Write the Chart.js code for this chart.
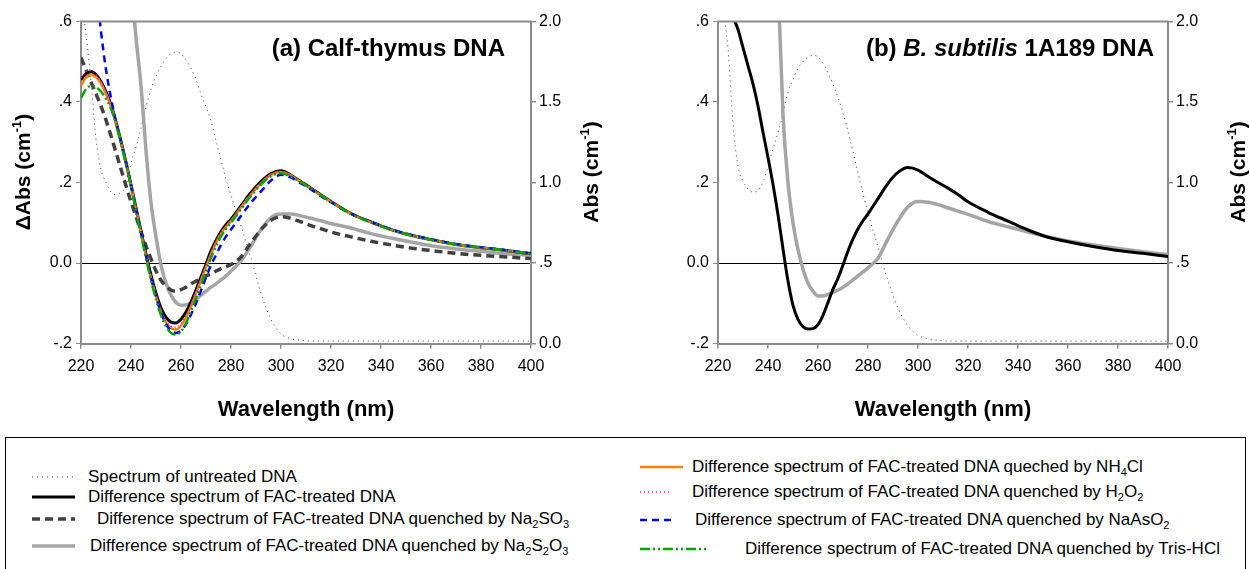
<!DOCTYPE html>
<html>
<head>
<meta charset="utf-8">
<script src="https://cdn.jsdelivr.net/npm/chart.js@4.4.1/dist/chart.umd.min.js"></script>
<style>
  html, body { margin: 0; padding: 0; background: #fff; }
  #wrap { position: relative; width: 1249px; height: 569px; overflow: hidden; font-family: "Liberation Sans", Arial, sans-serif; }
  canvas { position: absolute; top: 0; }
  #legendBox { position: absolute; left: 5px; top: 437px; width: 1241px; height: 140px; border: 1px solid #000; box-sizing: border-box; }
  .item { position: absolute; font-size: 17px; line-height: 20px; white-space: nowrap; color: #000; }
  .item sub { font-size: 11px; vertical-align: -4px; line-height: 0; }
  svg { position: absolute; overflow: visible; }
</style>
</head>
<body>
<div id="wrap">
  <canvas id="chartA" width="625" height="430" style="left:0px"></canvas>
  <canvas id="chartB" width="624" height="430" style="left:625px"></canvas>
  <div id="legendBox"></div>
</div>
<script>
const wavelength = [220, 222, 224, 226, 228, 230, 232, 234, 236, 238, 240, 242, 244, 246, 248, 250, 252, 254, 256, 258,
  260, 262, 264, 266, 268, 270, 272, 274, 276, 278, 280, 284, 288, 292, 296, 300, 304, 308, 312, 316,
  320, 328, 336, 344, 352, 360, 370, 380, 390, 400];

// (a) calf-thymus DNA
const aUntreated = [2.2, 1.92, 1.63, 1.27, 1.08, 1.0, 0.94, 0.925, 0.94, 0.98, 1.12, 1.22, 1.34, 1.47, 1.58, 1.66, 1.72, 1.77, 1.8, 1.81,
  1.8, 1.76, 1.71, 1.64, 1.55, 1.47, 1.38, 1.26, 1.14, 1.02, 0.92, 0.73, 0.53, 0.31, 0.15, 0.06, 0.03, 0.02, 0.015, 0.015,
  0.015, 0.015, 0.015, 0.015, 0.015, 0.015, 0.015, 0.015, 0.015, 0.015];
const aFac = [0.455, 0.47, 0.476, 0.468, 0.45, 0.425, 0.393, 0.35, 0.302, 0.25, 0.194, 0.137, 0.079, 0.022, -0.03, -0.075, -0.112, -0.135, -0.147, -0.149,
  -0.14, -0.122, -0.097, -0.067, -0.035, -0.003, 0.03, 0.056, 0.078, 0.095, 0.109, 0.142, 0.175, 0.202, 0.222, 0.229, 0.218, 0.202, 0.186, 0.169,
  0.153, 0.123, 0.102, 0.083, 0.069, 0.058, 0.046, 0.038, 0.031, 0.023];
const aNa2SO3 = [0.51, 0.48, 0.45, 0.42, 0.39, 0.355, 0.316, 0.275, 0.233, 0.192, 0.152, 0.115, 0.078, 0.042, 0.01, -0.02, -0.043, -0.058, -0.067, -0.07,
  -0.066, -0.06, -0.052, -0.045, -0.038, -0.032, -0.027, -0.02, -0.014, -0.009, -0.004, 0.015, 0.05, 0.083, 0.106, 0.115, 0.111, 0.102, 0.093, 0.085,
  0.077, 0.065, 0.054, 0.045, 0.037, 0.031, 0.024, 0.019, 0.015, 0.011];
const aNa2S2O3 = [null, null, null, null, null, null, null, null, null, 0.85, 0.7, 0.56, 0.44, 0.28, 0.15, 0.065, -0.005, -0.05, -0.08, -0.098,
  -0.105, -0.104, -0.098, -0.09, -0.08, -0.07, -0.06, -0.052, -0.042, -0.032, -0.02, 0.005, 0.043, 0.083, 0.113, 0.122, 0.122, 0.117, 0.111, 0.105,
  0.098, 0.087, 0.073, 0.062, 0.052, 0.043, 0.035, 0.029, 0.023, 0.019];
const aNH4Cl = [0.44, 0.462, 0.468, 0.462, 0.446, 0.42, 0.39, 0.347, 0.3, 0.248, 0.192, 0.134, 0.075, 0.017, -0.037, -0.083, -0.122, -0.148, -0.162, -0.165,
  -0.156, -0.136, -0.108, -0.076, -0.043, -0.01, 0.022, 0.05, 0.073, 0.09, 0.104, 0.138, 0.17, 0.198, 0.219, 0.226, 0.217, 0.201, 0.185, 0.168,
  0.152, 0.122, 0.101, 0.083, 0.069, 0.058, 0.046, 0.038, 0.031, 0.023];
const aH2O2 = [0.46, 0.475, 0.478, 0.469, 0.45, 0.423, 0.392, 0.349, 0.301, 0.249, 0.193, 0.135, 0.077, 0.019, -0.034, -0.08, -0.118, -0.143, -0.157, -0.16,
  -0.151, -0.131, -0.104, -0.073, -0.04, -0.008, 0.025, 0.052, 0.075, 0.092, 0.106, 0.14, 0.172, 0.2, 0.22, 0.227, 0.217, 0.201, 0.185, 0.168,
  0.152, 0.122, 0.101, 0.083, 0.069, 0.058, 0.046, 0.038, 0.031, 0.023];
const aNaAsO2 = [1.05, 0.92, 0.8, 0.69, 0.575, 0.48, 0.41, 0.35, 0.302, 0.25, 0.193, 0.135, 0.076, 0.018, -0.036, -0.083, -0.123, -0.152, -0.168, -0.174,
  -0.168, -0.152, -0.128, -0.1, -0.068, -0.036, -0.005, 0.02, 0.045, 0.066, 0.083, 0.117, 0.15, 0.178, 0.205, 0.219, 0.212, 0.198, 0.183, 0.166,
  0.151, 0.122, 0.102, 0.084, 0.07, 0.059, 0.047, 0.039, 0.032, 0.024];
const aTris = [0.41, 0.432, 0.44, 0.437, 0.426, 0.408, 0.383, 0.345, 0.298, 0.246, 0.19, 0.13, 0.07, 0.012, -0.043, -0.09, -0.13, -0.158, -0.174, -0.178,
  -0.17, -0.15, -0.12, -0.088, -0.054, -0.02, 0.013, 0.042, 0.066, 0.085, 0.1, 0.134, 0.167, 0.195, 0.216, 0.223, 0.215, 0.2, 0.185, 0.168,
  0.152, 0.122, 0.101, 0.083, 0.069, 0.058, 0.046, 0.038, 0.031, 0.023];

// (b) B. subtilis 1A189 DNA
const bUntreated = [2.5, 2.1, 1.83, 1.37, 1.1, 1.01, 0.96, 0.94, 0.95, 1.0, 1.1, 1.21, 1.31, 1.43, 1.56, 1.64, 1.71, 1.75, 1.78, 1.79,
  1.78, 1.74, 1.68, 1.61, 1.53, 1.43, 1.32, 1.19, 1.06, 0.93, 0.81, 0.6, 0.39, 0.22, 0.11, 0.05, 0.03, 0.02, 0.015, 0.015,
  0.015, 0.015, 0.015, 0.015, 0.015, 0.015, 0.015, 0.015, 0.015, 0.015];
const bFac = [0.73, 0.69, 0.65, 0.612, 0.58, 0.535, 0.49, 0.445, 0.39, 0.325, 0.262, 0.195, 0.12, 0.035, -0.045, -0.105, -0.14, -0.158, -0.164, -0.163,
  -0.153, -0.13, -0.098, -0.065, -0.038, -0.005, 0.03, 0.06, 0.085, 0.105, 0.122, 0.16, 0.198, 0.225, 0.237, 0.231, 0.215, 0.2, 0.186, 0.17,
  0.152, 0.126, 0.104, 0.082, 0.064, 0.053, 0.041, 0.031, 0.024, 0.016];
const bNa2S2O3 = [null, null, null, null, null, null, null, null, null, null, null, 0.95, 0.7, 0.37, 0.2, 0.1, 0.033, -0.015, -0.05, -0.07,
  -0.082, -0.082, -0.078, -0.073, -0.067, -0.06, -0.052, -0.042, -0.032, -0.022, -0.012, 0.012, 0.06, 0.105, 0.14, 0.153, 0.151, 0.145, 0.137, 0.129,
  0.121, 0.103, 0.09, 0.077, 0.065, 0.055, 0.045, 0.036, 0.028, 0.021];

const leftTickLabels = ["-.2", "0.0", ".2", ".4", ".6"];
const rightTickLabels = ["0.0", ".5", "1.0", "1.5", "2.0"];

const FONT = "\"Liberation Sans\", Arial, sans-serif";

const styles = {
  untreated: { color: "#3c3c3c", width: 1, dash: [1, 4] },
  fac: { color: "#000000", width: 3, dash: [] },
  so3: { color: "#404040", width: 3.5, dash: [8, 5] },
  s2o3: { color: "#a5a5a5", width: 3.5, dash: [] },
  nh4: { color: "#ff7f00", width: 2.5, dash: [] },
  h2o2: { color: "#ff00ff", width: 1.5, dash: [1, 3] },
  naaso2: { color: "#0000ff", width: 2.5, dash: [7, 5] },
  tris: { color: "#00a600", width: 2.5, dash: [10, 3, 2, 3, 2, 3] }
};

function series(values, key, axis) {
  const s = styles[key];
  return {
    data: wavelength.map((w, i) => ({ x: w, y: values[i] })),
    borderColor: s.color,
    borderWidth: s.width,
    borderDash: s.dash,
    pointRadius: 0,
    fill: false,
    cubicInterpolationMode: "monotone",
    spanGaps: false,
    yAxisID: axis || "y"
  };
}

// draws text runs with italic / superscript parts
function drawRich(ctx, parts, x, y, align, size) {
  let total = 0;
  const fonts = parts.map((p) => {
    const sz = p[1] === "sup" ? Math.round(size * 0.62) : size;
    const f = (p[1] === "i" ? "italic " : "") + "bold " + sz + "px " + FONT;
    ctx.font = f;
    const w = ctx.measureText(p[0]).width;
    total += w;
    return { f: f, w: w };
  });
  let cx = align === "center" ? x - total / 2 : align === "right" ? x - total : x;
  ctx.textAlign = "left";
  ctx.textBaseline = "alphabetic";
  ctx.fillStyle = "#000";
  parts.forEach((p, i) => {
    ctx.font = fonts[i].f;
    ctx.fillText(p[0], cx, y + (p[1] === "sup" ? -size * 0.42 : 0));
    cx += fonts[i].w;
  });
}

const decorations = {
  id: "decorations",
  afterDraw(chart, args, opts) {
    const ctx = chart.ctx;
    const a = chart.chartArea;
    ctx.save();
    // top frame line
    ctx.strokeStyle = "#8c8c8c";
    ctx.lineWidth = 2;
    ctx.beginPath();
    ctx.moveTo(a.left - 1, a.top);
    ctx.lineTo(a.right + 1, a.top);
    ctx.stroke();

    drawRich(ctx, opts.label, a.right - opts.labelInset, 56, "right", 24);
    drawRich(ctx, [["Wavelength (nm)", ""]], (a.left + a.right) / 2, 416, "center", 22);

    const abs = [["Abs (cm", ""], ["-1", "sup"], [")", ""]];
    if (opts.leftTitle) {
      ctx.save();
      ctx.translate(30, 172);
      ctx.rotate(-Math.PI / 2);
      drawRich(ctx, [["\u0394Abs (cm", ""], ["-1", "sup"], [")", ""]], 0, 0, "center", 21);
      ctx.restore();
    }
    ctx.save();
    ctx.translate(a.right + opts.rightTitleOffset, 172);
    ctx.rotate(-Math.PI / 2);
    drawRich(ctx, abs, 0, 0, "center", 21);
    ctx.restore();
    ctx.restore();
  }
};

function makeChart(id, datasets, cfg) {
  const tickFont = { size: 16, family: FONT };
  const axisBorder = { color: "#8c8c8c", width: 2 };
  return new Chart(document.getElementById(id), {
    type: "line",
    data: { datasets: datasets },
    plugins: [decorations],
    options: {
      responsive: false,
      animation: false,
      devicePixelRatio: 1,
      layout: { padding: { top: 21.5, left: 0, right: 0, bottom: 0 } },
      plugins: {
        legend: { display: false },
        tooltip: { enabled: false },
        decorations: cfg
      },
      scales: {
        x: {
          type: "linear",
          min: 220,
          max: 400,
          ticks: { stepSize: 20, color: "#000", font: tickFont, padding: 8, maxRotation: 0 },
          grid: { drawOnChartArea: false, tickLength: 5, tickColor: "#8c8c8c", lineWidth: 1.5 },
          border: axisBorder,
          afterFit(s) { s.height = 86.5; }
        },
        y: {
          position: "left",
          min: -0.2,
          max: 0.6,
          ticks: {
            stepSize: 0.2, color: "#000", font: tickFont, padding: 4,
            callback: (v, i) => leftTickLabels[i]
          },
          grid: {
            color: (c) => (c.tick && Math.abs(c.tick.value) < 1e-9 ? "#000" : "rgba(0,0,0,0)"),
            lineWidth: 1,
            tickLength: 5,
            tickColor: "#8c8c8c"
          },
          border: axisBorder,
          afterFit(s) { s.width = cfg.leftW; }
        },
        y2: {
          position: "right",
          min: 0,
          max: 2,
          ticks: {
            stepSize: 0.5, color: "#000", font: tickFont, padding: 3,
            callback: (v, i) => rightTickLabels[i]
          },
          grid: { drawOnChartArea: false, tickLength: 5, tickColor: "#8c8c8c", lineWidth: 1.5 },
          border: axisBorder,
          afterFit(s) { s.width = cfg.rightW; }
        }
      }
    }
  });
}

// first dataset is drawn on top
makeChart("chartA", [
  series(aTris, "tris"),
  series(aNaAsO2, "naaso2"),
  series(aH2O2, "h2o2"),
  series(aNH4Cl, "nh4"),
  series(aFac, "fac"),
  series(aNa2SO3, "so3"),
  series(aNa2S2O3, "s2o3"),
  series(aUntreated, "untreated", "y2")
], {
  leftW: 81, rightW: 94, leftTitle: true, labelInset: 26, rightTitleOffset: 67,
  label: [["(a) Calf-thymus DNA", ""]]
});

makeChart("chartB", [
  series(bFac, "fac"),
  series(bNa2S2O3, "s2o3"),
  series(bUntreated, "untreated", "y2")
], {
  leftW: 93, rightW: 81, leftTitle: false, labelInset: 14, rightTitleOffset: 77,
  label: [["(b) ", ""], ["B. subtilis", "i"], [" 1A189 DNA", ""]]
});

// shared legend below both panels
const legendEntries = [
  { key: "untreated", html: "Spectrum of untreated DNA", x: 32, len: 43, tx: 88, y: 477 },
  { key: "fac", html: "Difference spectrum of FAC-treated DNA", x: 32, len: 43, tx: 88, y: 497 },
  { key: "so3", html: "Difference spectrum of FAC-treated DNA quenched by Na<sub>2</sub>SO<sub>3</sub>", x: 32, len: 43, tx: 97, y: 519 },
  { key: "s2o3", html: "Difference spectrum of FAC-treated DNA quenched by Na<sub>2</sub>S<sub>2</sub>O<sub>3</sub>", x: 32, len: 43, tx: 90, y: 546 },
  { key: "nh4", html: "Difference spectrum of FAC-treated DNA queched by NH<sub>4</sub>Cl", x: 640, len: 43, tx: 692, y: 467 },
  { key: "h2o2", html: "Difference spectrum of FAC-treated DNA quenched by H<sub>2</sub>O<sub>2</sub>", x: 640, len: 32, tx: 692, y: 492 },
  { key: "naaso2", html: "Difference spectrum of FAC-treated DNA quenched by NaAsO<sub>2</sub>", x: 640, len: 32, tx: 695, y: 520 },
  { key: "tris", html: "Difference spectrum of FAC-treated DNA quenched by Tris-HCl", x: 640, len: 66, tx: 745, y: 549 }
];

const wrap = document.getElementById("wrap");
legendEntries.forEach((e) => {
  const s = styles[e.key];
  const svg = document.createElementNS("http://www.w3.org/2000/svg", "svg");
  svg.setAttribute("width", e.len);
  svg.setAttribute("height", 10);
  svg.style.left = e.x + "px";
  svg.style.top = (e.y - 5) + "px";
  const line = document.createElementNS("http://www.w3.org/2000/svg", "line");
  line.setAttribute("x1", 0);
  line.setAttribute("x2", e.len);
  line.setAttribute("y1", 5);
  line.setAttribute("y2", 5);
  line.setAttribute("stroke", s.color);
  line.setAttribute("stroke-width", s.width);
  if (s.dash.length) line.setAttribute("stroke-dasharray", s.dash.join(" "));
  svg.appendChild(line);
  wrap.appendChild(svg);

  const div = document.createElement("div");
  div.className = "item";
  div.innerHTML = e.html;
  div.style.left = e.tx + "px";
  div.style.top = (e.y - 10) + "px";
  wrap.appendChild(div);
});
</script>
</body>
</html>
